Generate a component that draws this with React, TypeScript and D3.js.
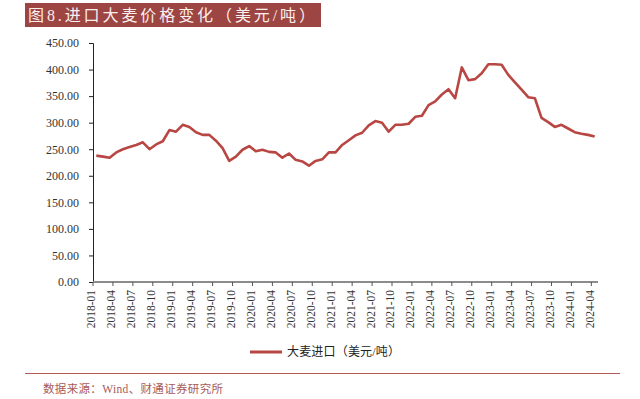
import React, { useEffect, useRef } from 'react';
import * as d3 from 'd3';

// monthly barley import price, USD/ton, 2018-01 .. 2024-04
const months: string[] = [];
for (let y = 2018; y <= 2024; y++) {
    for (let m = 1; m <= 12; m++) {
        if (y === 2024 && m > 4) break;
        months.push(`${y}-${String(m).padStart(2, '0')}`);
    }
}

const prices2018 = [238, 236, 234, 244, 250, 254, 258, 263, 250, 259, 265, 286];
const prices2019 = [283, 296, 292, 282, 277, 277, 266, 252, 228, 236, 249, 256];
const prices2020 = [246, 249, 245, 244, 234, 242, 230, 227, 219, 228, 231, 244];
const prices2021 = [244, 258, 267, 276, 281, 295, 303, 300, 283, 296, 296, 298];
const prices2022 = [311, 313, 333, 340, 353, 363, 346, 404, 380, 382, 393, 410];
const prices2023 = [410, 409, 390, 376, 362, 348, 346, 309, 301, 292, 296, 289];
const prices2024 = [282, 279, 277, 274];
const prices = [...prices2018, ...prices2019, ...prices2020, ...prices2021, ...prices2022, ...prices2023, ...prices2024];

const yTicks = [0, 50, 100, 150, 200, 250, 300, 350, 400, 450];

const titleText = '图8.进口大麦价格变化（美元/吨）';
const legendText = '大麦进口（美元/吨）';
const sourceText = '数据来源：Wind、财通证券研究所';

const App = () => {
    const svgRef = useRef<SVGSVGElement>(null);

    useEffect(() => {
        const svg = d3.select(svgRef.current);
        svg.selectAll('*').remove();

        const cjk = '"Liberation Serif", "Noto Sans CJK SC", serif';
        const lineColor = '#b84744';

        // Title bar
        svg.append('rect')
            .attr('x', 25).attr('y', 3)
            .attr('width', 296).attr('height', 24)
            .style('fill', '#9c4542');
        svg.append('text')
            .attr('x', 28).attr('y', 21)
            .attr('textLength', 287)
            .attr('lengthAdjust', 'spacing')
            .style('fill', '#fbeeee')
            .style('font-family', cjk)
            .style('font-size', '16px')
            .text(titleText);

        const left = 93, right = 598, top = 43, bottom = 282;

        const x = d3.scaleBand<string>()
            .domain(months)
            .range([left, right])
            .padding(0);

        const y = d3.scaleLinear()
            .domain([0, 450])
            .range([bottom, top]);

        // Y axis
        const yAxis = svg.append('g')
            .attr('transform', `translate(${left},0)`)
            .call(d3.axisLeft(y).tickValues(yTicks).tickFormat(d3.format('.2f')).tickSize(4).tickPadding(10));
        yAxis.select('.domain').style('stroke', '#222');
        yAxis.selectAll('line').style('stroke', '#222');
        yAxis.selectAll('text')
            .style('fill', '#333')
            .style('font-family', '"Liberation Serif", serif')
            .style('font-size', '12px');

        // X axis
        svg.append('line')
            .attr('x1', left).attr('x2', right)
            .attr('y1', bottom).attr('y2', bottom)
            .style('stroke', '#8c8c8c')
            .style('stroke-width', 2);

        const labelMonths = months.filter((d, i) => i % 3 === 0);
        svg.append('g')
            .selectAll('line')
            .data(labelMonths)
            .enter()
            .append('line')
            .attr('x1', d => x(d)!)
            .attr('x2', d => x(d)!)
            .attr('y1', bottom)
            .attr('y2', bottom + 4)
            .style('stroke', '#555');

        svg.append('g')
            .selectAll('text')
            .data(labelMonths)
            .enter()
            .append('text')
            .attr('transform', d => `translate(${x(d)! - 1},${bottom + 8}) rotate(-90)`)
            .attr('dy', '0.3em')
            .attr('text-anchor', 'end')
            .style('fill', '#333')
            .style('font-family', '"Liberation Serif", serif')
            .style('font-size', '11.5px')
            .text(d => d);

        // Line
        const line = d3.line<number>()
            .x((d, i) => x(months[i])! + x.bandwidth() / 2)
            .y(d => y(d));

        svg.append('path')
            .datum(prices)
            .attr('d', line)
            .style('fill', 'none')
            .style('stroke', lineColor)
            .style('stroke-width', 2.6)
            .style('stroke-linejoin', 'round');

        // Legend
        svg.append('line')
            .attr('x1', 250).attr('x2', 282)
            .attr('y1', 352).attr('y2', 352)
            .style('stroke', lineColor)
            .style('stroke-width', 3);
        svg.append('text')
            .attr('x', 287).attr('y', 356)
            .attr('textLength', 113)
            .attr('lengthAdjust', 'spacing')
            .style('fill', '#222')
            .style('font-family', cjk)
            .style('font-size', '12px')
            .text(legendText);

        // Footer
        svg.append('line')
            .attr('x1', 25).attr('x2', 620)
            .attr('y1', 373.5).attr('y2', 373.5)
            .style('stroke', '#b45a57')
            .style('stroke-width', 1);
        svg.append('text')
            .attr('x', 43).attr('y', 393)
            .attr('textLength', 180)
            .attr('lengthAdjust', 'spacing')
            .style('fill', '#a85a57')
            .style('font-family', cjk)
            .style('font-size', '11.5px')
            .text(sourceText);
    }, []);

    return (
        <svg
            ref={svgRef}
            width={640}
            height={399}
            style={{ position: 'absolute', left: 0, top: 0, background: '#fff' }}
        />
    );
};

export default App;
